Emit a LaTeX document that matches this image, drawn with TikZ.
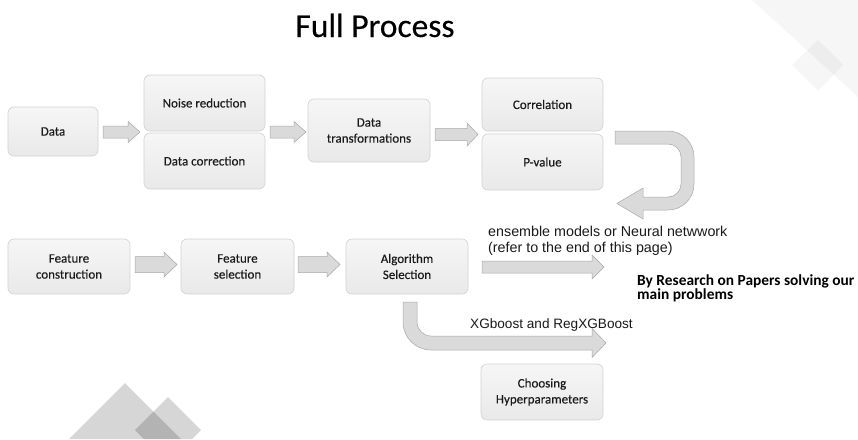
\documentclass[tikz,border=0pt]{standalone}
\usepackage{fontspec}
\setmainfont{Carlito}
\newfontfamily\arialf{Liberation Sans}
\newfontfamily\boxf[FakeBold=0.3]{Carlito}
\definecolor{boxfillA}{HTML}{F6F6F6}
\definecolor{boxfillB}{HTML}{E9E9E9}
\definecolor{boxline}{HTML}{D2D2D2}
\definecolor{arrfill}{HTML}{DADADA}
\definecolor{arrline}{HTML}{A8A8A8}
\definecolor{txt}{HTML}{1A1A1A}
\newcommand\barrow[7]{%
  \path[blockarr] (#1,{#3-#4}) -- ({#2-#6},{#3-#4}) -- ({#2-#6},{#3-#5}) -- (#2,#3)
     -- ({#2-#6},{#3+#5}) -- ({#2-#6},{#3+#4}) -- (#1,{#3+#4}) -- cycle;
  \coordinate (#7) at ({(#1+#2)/2},#3);}
\begin{document}
\begin{tikzpicture}[x=1pt,y=-1pt,
  procbox/.style={draw=boxline, line width=0.6pt, rounded corners=6pt,
    top color=boxfillA, bottom color=boxfillB, text=txt,
    font=\boxf\fontsize{13}{16}\selectfont, align=center, inner sep=2pt},
  blockarr/.style={draw=arrline, line width=0.5pt, fill=arrfill},
  deco/.style={fill=black, fill opacity=0.16, draw=none},
  decolight/.style={fill=black, fill opacity=0.035, draw=none}]
\useasboundingbox (0,0) rectangle (858,439);
\fill[white] (0,0) rectangle (858,439);
% decorations
\begin{scope}
\clip (0,0) rectangle (858,439);
\path[deco] (125,383) -- (69,439) -- (181,439) -- cycle;
\path[deco] (168,397) -- (135,430) -- (144,439) -- (192,439) -- (201,430) -- cycle;
\path[decolight] (752,0) -- (858,97) -- (858,0) -- cycle;
\path[decolight] (818,40) -- (843,65) -- (818,91) -- (792,65) -- cycle;
\end{scope}
% title
\node[anchor=base, inner sep=0pt, font=\boxf\fontsize{33.5}{38}\selectfont, text=black] (title) at (375,37) {Full Process};
% boxes
\node[procbox, minimum width=90pt, minimum height=49pt] (data) at (53,131.5) {Data};
\node[procbox, minimum width=121pt, minimum height=56pt] (noise) at (204.5,103) {Noise reduction};
\node[procbox, minimum width=121pt, minimum height=56pt] (dcorr) at (204.5,161) {Data correction};
\node[procbox, minimum width=122pt, minimum height=63pt] (trans) at (369,130.5) {Data\\transformations};
\node[procbox, minimum width=121pt, minimum height=53pt] (correl) at (542.5,104.5) {Correlation};
\node[procbox, minimum width=121pt, minimum height=56pt] (pval) at (542.5,162) {P-value};
\node[procbox, minimum width=122pt, minimum height=55pt] (fc) at (69,266.5) {Feature\\construction};
\node[procbox, minimum width=113pt, minimum height=55pt] (fs) at (237.5,266.5) {Feature\\selection};
\node[procbox, minimum width=122pt, minimum height=55pt] (alg) at (407,266.5) {Algorithm\\Selection};
\node[procbox, minimum width=122pt, minimum height=56pt] (hyp) at (542,392) {Choosing\\Hyperparameters};
% straight block arrows
\barrow{103}{140}{132}{6}{10.5}{12}{a1}
\barrow{270}{306}{132}{6}{10.5}{12}{a2}
\barrow{435}{478}{134.5}{6}{11.5}{11}{a3}
\barrow{135}{177}{264.5}{8}{12.5}{13}{a4}
\barrow{298}{340}{264.5}{8}{12.5}{13}{a5}
\barrow{482}{604}{267}{6}{12}{12}{a6}
% U-turn arrow
\path[blockarr] (615,131) -- (668,131) .. controls (682.4,131) and (694,142.6) .. (694,157)
  -- (694,184) .. controls (694,198.4) and (682.4,210) .. (668,210) -- (643,210) -- (643,219)
  -- (617,203.5) -- (643,188) -- (643,197) -- (668,197)
  .. controls (675.2,197) and (681,191.2) .. (681,184) -- (681,157)
  .. controls (681,149.8) and (675.2,144) .. (668,144) -- (615,144) -- cycle;
% bent arrow
\path[blockarr] (403,302) -- (403,322) .. controls (403,337.5) and (415.5,350) .. (431,350)
  -- (592,350) -- (592,357.5) -- (606,343) -- (592,328.5) -- (592,336) -- (431,336)
  .. controls (423.3,336) and (417,329.7) .. (417,322) -- (417,302) -- cycle;
% labels
\node[anchor=base west, inner sep=0pt, font=\arialf\fontsize{14.3}{16}\selectfont, text=txt] (ens1) at (488,236) {ensemble models or Neural netwwork};
\node[anchor=base west, inner sep=0pt, font=\arialf\fontsize{14.3}{16}\selectfont, text=txt] (ens2) at (488,252) {(refer to the end of this page)};
\node[anchor=base west, inner sep=0pt, font=\arialf\fontsize{13.6}{16}\selectfont, text=txt] (xgb) at (470,328) {XGboost and RegXGBoost};
\node[anchor=base west, inner sep=0pt, font=\bfseries\fontsize{15.4}{15}\selectfont, text=black] (res1) at (637,285) {By Research on Papers solving our};
\node[anchor=base west, inner sep=0pt, font=\bfseries\fontsize{15.4}{15}\selectfont, text=black] (res2) at (637,299) {main problems};
\end{tikzpicture}
\end{document}
